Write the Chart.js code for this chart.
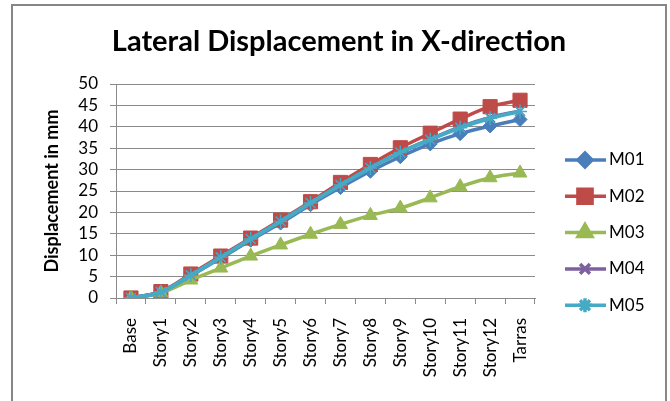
<!DOCTYPE html>
<html>
<head>
<meta charset="utf-8">
<script src="https://cdn.jsdelivr.net/npm/chart.js@4.4.0/dist/chart.umd.min.js"></script>
<style>
  html, body { margin: 0; padding: 0; background: #fff; }
  #wrap { width: 670px; height: 401px; }
</style>
</head>
<body>
<div id="wrap"><canvas id="myChart" width="670" height="401"></canvas></div>
<script>
const storyLabels = ["Base", "Story1", "Story2", "Story3", "Story4", "Story5", "Story6",
  "Story7", "Story8", "Story9", "Story10", "Story11", "Story12", "Tarras"];
const m01 = [0, 1.4, 5.2, 9.3, 13.5, 17.5, 21.8, 25.8, 29.6, 33.0, 36.0, 38.4, 40.2, 41.7];
const m02 = [0, 1.5, 5.6, 9.8, 14.0, 18.2, 22.5, 27.0, 31.2, 35.1, 38.5, 41.8, 44.7, 46.2];
const m03 = [0, 1.2, 4.2, 7.0, 9.8, 12.4, 14.9, 17.2, 19.3, 21.0, 23.4, 26.0, 28.1, 29.2];
const m04 = [0, 1.4, 5.3, 9.5, 13.8, 17.9, 22.2, 26.4, 30.5, 34.0, 37.1, 40.0, 42.2, 43.7];
const m05 = [0, 1.4, 5.3, 9.5, 13.8, 17.9, 22.2, 26.4, 30.4, 34.0, 37.0, 39.8, 42.0, 43.6];

const gridColor = "#8a8a8a";
const fontName = "Lato";

function serie(label, data, color, style, radius, width, order) {
  return {
    label: label,
    data: data,
    borderColor: color,
    backgroundColor: color,
    pointBackgroundColor: color,
    pointBorderColor: color,
    pointStyle: style,
    pointRadius: radius,
    pointBorderWidth: style === "crossRot" || style === "star" ? 1.5 : 1,
    borderWidth: width,
    tension: 0.35,
    order: order,
  };
}

// titulo, marco y leyenda a mano
const extras = {
  id: "extras",
  beforeDraw(chart) {
    const ctx = chart.ctx;
    ctx.save();
    ctx.fillStyle = "#fff";
    ctx.fillRect(0, 0, chart.width, chart.height);
    ctx.strokeStyle = "#868686";
    ctx.lineWidth = 2;
    ctx.strokeRect(12, 5, 654, 420);
    ctx.restore();
  },
  afterDraw(chart) {
    const ctx = chart.ctx;
    ctx.save();
    ctx.fillStyle = "#000";
    ctx.font = "bold 29px " + fontName;
    ctx.textAlign = "center";
    ctx.textBaseline = "middle";
    ctx.fillText("Lateral Displacement in X-direction", 339, 42);

    chart.data.datasets.forEach((ds, i) => {
      const y = 160 + i * 36.3;
      ctx.strokeStyle = ds.borderColor;
      ctx.lineWidth = 3.5;
      ctx.beginPath();
      ctx.moveTo(565, y);
      ctx.lineTo(606, y);
      ctx.stroke();
      ctx.fillStyle = ds.backgroundColor;
      Chart.helpers.drawPoint(ctx, {
        pointStyle: ds.pointStyle,
        rotation: 0,
        radius: ds.pointRadius,
        borderWidth: ds.pointBorderWidth,
      }, 585, y);
      ctx.fillStyle = "#000";
      ctx.font = "17px " + fontName;
      ctx.textAlign = "left";
      ctx.fillText(ds.label, 609, y);
    });
    ctx.restore();
  },
};

const ctx = document.getElementById("myChart").getContext("2d");
const myChart = new Chart(ctx, {
  type: "line",
  data: {
    labels: storyLabels,
    datasets: [
      serie("M01", m01, "#4A7EBB", "rectRot", 7, 3.5, 5),
      serie("M02", m02, "#BE4B48", "rect", 10, 3.5, 4),
      serie("M03", m03, "#98B954", "triangle", 8, 3.5, 3),
      serie("M04", m04, "#7D60A0", "crossRot", 7, 3.5, 2),
      serie("M05", m05, "#46AAC5", "star", 7, 4, 1),
    ],
  },
  plugins: [extras],
  options: {
    responsive: false,
    animation: false,
    layout: {
      padding: { top: 84, right: 135, bottom: 0, left: 0 },
    },
    scales: {
      x: {
        offset: true,
        grid: {
          offset: true,
          drawOnChartArea: false,
          color: gridColor,
          tickLength: 6,
        },
        border: { color: gridColor },
        ticks: {
          minRotation: 90,
          maxRotation: 90,
          autoSkip: false,
          padding: 14,
          color: "#000",
          font: { family: fontName, size: 17 },
        },
        afterFit(scale) {
          scale.height = 103;
        },
      },
      y: {
        min: 0,
        max: 50,
        ticks: {
          stepSize: 5,
          autoSkip: false,
          padding: 12,
          color: "#000",
          font: { family: fontName, size: 17 },
        },
        grid: { color: gridColor, tickLength: 6 },
        border: { color: gridColor },
        title: {
          display: true,
          text: "Displacement in mm",
          color: "#000",
          font: { family: fontName, size: 18, weight: "bold" },
          padding: { top: 41, bottom: 0 },
        },
        afterFit(scale) {
          scale.width = 116;
        },
      },
    },
    plugins: {
      legend: { display: false },
      title: { display: false },
      tooltip: { enabled: false },
    },
  },
});
</script>
</body>
</html>
